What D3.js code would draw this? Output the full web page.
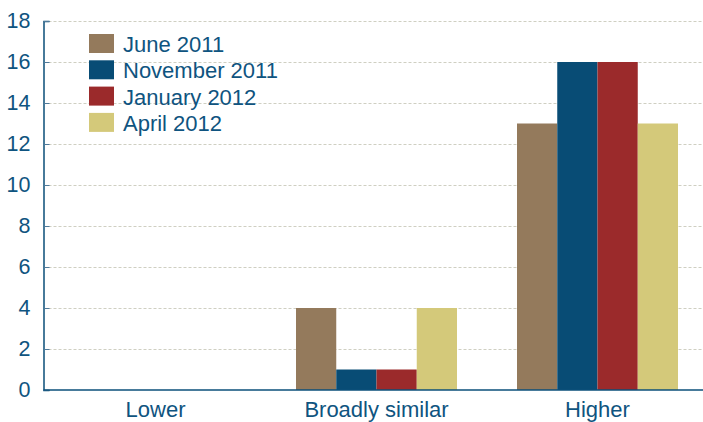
<!DOCTYPE html>
<html>
<head>
<meta charset="utf-8">
<script src="https://cdn.jsdelivr.net/npm/d3@7"></script>
<style>
  html, body { margin: 0; padding: 0; background: #fff; }
  svg { display: block; }
  text { font-family: "Liberation Sans", Arial, sans-serif; }
</style>
</head>
<body>
<svg id="chart" width="703" height="422"></svg>
<script>
// Survey responses by category, one series per survey date
const categories = ["Lower", "Broadly similar", "Higher"];
const seriesNames = ["June 2011", "November 2011", "January 2012", "April 2012"];
const june2011 = [0, 4, 13];
const november2011 = [0, 1, 16];
const january2012 = [0, 1, 16];
const april2012 = [0, 4, 13];
const seriesValues = [june2011, november2011, january2012, april2012];
const yTicks = [0, 2, 4, 6, 8, 10, 12, 14, 16, 18];
const seriesColors = ["#947a5c", "#084c75", "#9b2a2b", "#d4c97a"];

const textColor = "#0f5480";
const axisColor = "#0b4f7a";

const svg = d3.select("#chart");

const x0 = d3.scaleBand().domain(categories).range([45, 708]).paddingInner(0).paddingOuter(0);
const groupPad = 30;
const x1 = d3.scaleBand().domain(seriesNames)
  .range([groupPad, x0.bandwidth() - groupPad]).padding(0);
const y = d3.scaleLinear().domain([0, 18]).range([390, 21]);

const plotLeft = 43.5, plotRight = 703;

// Dashed gridlines
svg.append("g").selectAll("line")
  .data(yTicks.filter(d => d > 0))
  .join("line")
  .attr("x1", plotLeft).attr("x2", plotRight)
  .attr("y1", d => Math.round(y(d)) + 0.5).attr("y2", d => Math.round(y(d)) + 0.5)
  .attr("stroke", "#cfcfc2").attr("stroke-width", 1)
  .attr("stroke-dasharray", "3,2");

// Bars
const groups = svg.append("g").selectAll("g")
  .data(categories)
  .join("g")
  .attr("transform", d => `translate(${x0(d)},0)`);

groups.selectAll("rect")
  .data((c, i) => seriesNames.map((s, k) => ({ s, k, v: seriesValues[k][i] })))
  .join("rect")
  .attr("x", d => x1(d.s))
  .attr("width", x1.bandwidth())
  .attr("y", d => y(d.v))
  .attr("height", d => y(0) - y(d.v))
  .attr("fill", d => seriesColors[d.k]);

// Y axis with inward ticks
const yAxis = d3.axisLeft(y).tickValues(yTicks).tickSize(-6).tickPadding(13);
const yg = svg.append("g").attr("transform", `translate(${plotLeft},0)`).call(yAxis);
yg.select(".domain").attr("stroke", axisColor).attr("stroke-width", 1.5);
yg.selectAll(".tick line").attr("stroke", "#4f7a9a");
yg.selectAll(".tick text")
  .attr("fill", textColor)
  .attr("font-size", "21.5px")
  .attr("font-family", "Liberation Sans, Arial, sans-serif");

// X axis baseline and category labels
const xAxis = d3.axisBottom(x0).tickSize(0).tickPadding(11);
const xg = svg.append("g").attr("transform", `translate(0,${y(0)})`).call(xAxis);
xg.select(".domain").remove();
svg.append("line")
  .attr("x1", plotLeft).attr("x2", plotRight)
  .attr("y1", y(0)).attr("y2", y(0))
  .attr("stroke", axisColor).attr("stroke-width", 1.5);
xg.selectAll(".tick text")
  .attr("fill", textColor)
  .attr("font-size", "22px")
  .attr("font-family", "Liberation Sans, Arial, sans-serif");

// Legend
const legend = svg.append("g").attr("transform", "translate(89,34)");
const items = legend.selectAll("g")
  .data(seriesNames)
  .join("g")
  .attr("transform", (d, i) => `translate(0,${i * 26.3})`);
items.append("rect")
  .attr("width", 25).attr("height", 19)
  .attr("fill", (d, i) => seriesColors[i]);
items.append("text")
  .attr("x", 34).attr("y", 18)
  .attr("fill", textColor)
  .attr("font-size", "22px")
  .text(d => d);
</script>
</body>
</html>
